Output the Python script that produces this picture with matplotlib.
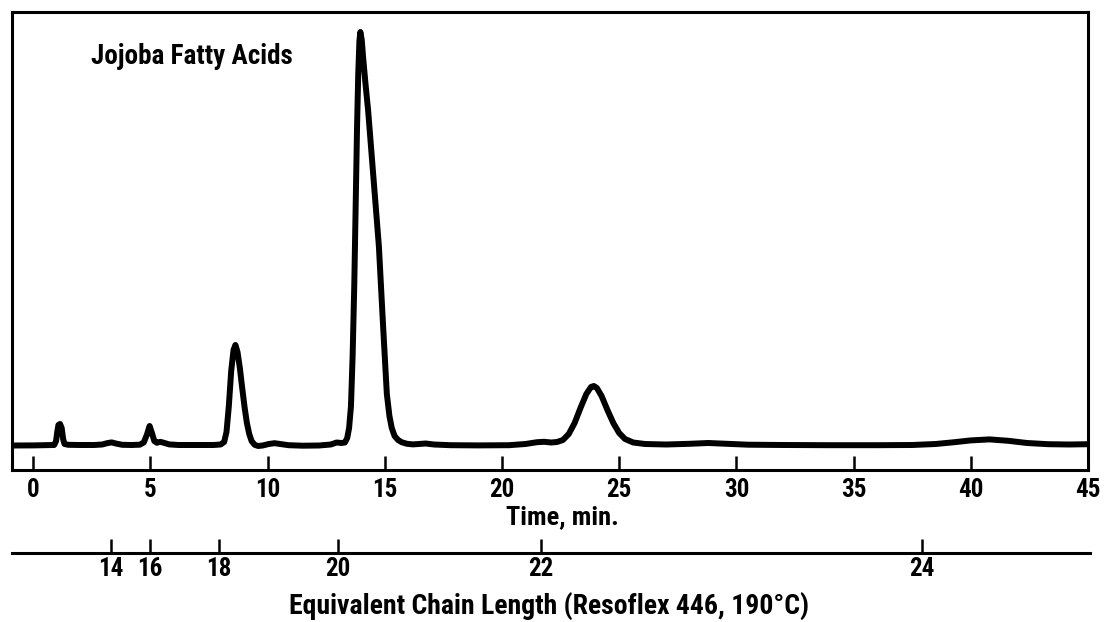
import matplotlib
matplotlib.use('Agg')
import matplotlib.pyplot as plt

# ---- data ----
time_min = [-0.9, 0.0, 0.5, 0.9, 0.98, 1.03, 1.08, 1.15, 1.22, 1.28, 1.34, 1.5, 2.0, 2.6,
            2.95, 3.15, 3.35, 3.55, 3.8, 4.2, 4.55, 4.72, 4.85, 4.97, 5.07, 5.17, 5.28,
            5.42, 5.58, 5.8, 6.2, 7.0, 7.7, 8.0, 8.15, 8.25, 8.35, 8.45, 8.55, 8.63, 8.72,
            8.82, 8.92, 9.02, 9.12, 9.22, 9.32, 9.45, 9.6, 9.8, 10.05, 10.3, 10.55, 10.9,
            11.5, 12.2, 12.7, 12.95, 13.15, 13.3, 13.40, 13.48, 13.56, 13.63, 13.70, 13.76,
            13.82, 13.87, 13.92, 13.96, 14.02, 14.08, 14.18, 14.29, 14.46, 14.60, 14.75,
            14.93, 15.09, 15.20, 15.30, 15.42, 15.57, 15.72, 15.95, 16.2, 16.45, 16.75,
            17.1, 17.8, 19.0, 20.3,
            21.0, 21.5, 21.8, 22.1, 22.35, 22.6, 22.85, 23.1, 23.35, 23.6, 23.8, 23.92,
            24.05, 24.25, 24.5, 24.75, 25.0, 25.25, 25.6, 26.1, 27.0, 28.0, 28.8, 29.6,
            30.5, 32.0, 34.0, 36.0, 37.5, 38.5, 39.3, 40.0, 40.8, 41.6, 42.4, 43.3, 44.2, 45.0]
signal = [0.5, 0.6, 0.8, 1.0, 5, 14, 21, 22, 18, 7, 2, 1.2, 1.0, 1.0,
          1.5, 2.8, 3.6, 2.4, 1.2, 1.0, 1.3, 3.5, 11, 20, 13, 5, 3.2,
          4.2, 3.2, 1.6, 1.0, 1.0, 1.0, 1.5, 4, 14, 40, 75, 96, 101, 94,
          78, 58, 39, 23, 12, 5, 1.2, 0.0, 0.5, 2.0, 2.8, 2.0, 0.8,
          0.3, 0.5, 1.5, 3.5, 3.0, 3.5, 8, 18, 40, 90, 160, 240,
          320, 372, 405, 414, 406, 388, 362, 336, 286, 246, 200,
          120, 52, 30, 18, 10, 6, 3.8, 2.2, 1.6, 2.0, 2.5,
          1.5, 0.8, 0.6, 0.8,
          2.0, 3.8, 4.2, 3.5, 4.0, 6, 12, 23, 38, 52, 59, 60,
          58, 50, 36, 23, 13, 7, 3.5, 2.0, 1.5, 2.2, 3.0, 2.2,
          1.3, 1.0, 0.8, 0.8, 1.0, 2.0, 3.8, 5.6, 6.6, 5.2, 3.0, 1.8, 1.5, 1.8]

time_ticks = [0, 5, 10, 15, 20, 25, 30, 35, 40, 45]
ecl_values = [14, 16, 18, 20, 22, 24]
ecl_times = [3.33, 4.99, 7.94, 13.01, 21.67, 37.93]

title_text = "Jojoba Fatty Acids"
time_label = "Time, min."
ecl_label = "Equivalent Chain Length (Resoflex 446, 190°C)"

FONT = ['Roboto Condensed', 'DejaVu Sans']
STRETCH = 'condensed'
W, H = 1105, 622

fig = plt.figure(figsize=(W / 100, H / 100), dpi=100)
fig.patch.set_facecolor('white')

ax = fig.add_axes([12 / W, 152 / H, 1076 / W, 458 / H])
ax.plot(time_min, signal, color='black', lw=4.3,
        solid_joinstyle='round', solid_capstyle='round')
ax.set_xlim(-0.9, 45)
ax.set_ylim(-24, 434)
ax.set_yticks([])
ax.set_xticks(time_ticks)
ax.set_xticklabels([str(t) for t in time_ticks])
ax.tick_params(axis='x', direction='in', length=10, width=1.8, pad=6,
               labelsize=18, color='black')
for lab in ax.get_xticklabels():
    lab.set_fontfamily(FONT)
    lab.set_fontweight('bold')
    lab.set_fontstretch(STRETCH)
for s in ax.spines.values():
    s.set_linewidth(2.2)

# second (ECL) scale below
ax2 = fig.add_axes([12 / W, (H - 553) / H, 1078 / W, 0.001])
ax2.set_xlim(-0.9, 45 + 2 / 23.44)
ax2.set_ylim(0, 1)
ax2.set_yticks([])
for k in ['top', 'left', 'right']:
    ax2.spines[k].set_visible(False)
ax2.spines['bottom'].set_linewidth(2.2)
ax2.patch.set_alpha(0)
ax2.set_xticks(ecl_times)
ax2.set_xticklabels([str(v) for v in ecl_values])
ax2.tick_params(axis='x', direction='in', length=10, width=1.8, pad=3,
                labelsize=18)
for lab in ax2.get_xticklabels():
    lab.set_fontfamily(FONT)
    lab.set_fontweight('bold')
    lab.set_fontstretch(STRETCH)

fig.text(192 / W, 1 - 57 / H, title_text, ha='center', va='center',
         fontsize=19.5, fontweight='bold', family=FONT, fontstretch=STRETCH)
fig.text(562 / W, 1 - 517 / H, time_label, ha='center', va='center',
         fontsize=19, fontweight='bold', family=FONT, fontstretch=STRETCH)
fig.text(549 / W, 1 - 606 / H, ecl_label, ha='center', va='center',
         fontsize=20, fontweight='bold', family=FONT, fontstretch=STRETCH)

fig.savefig('out.png', dpi=100, facecolor='white')
